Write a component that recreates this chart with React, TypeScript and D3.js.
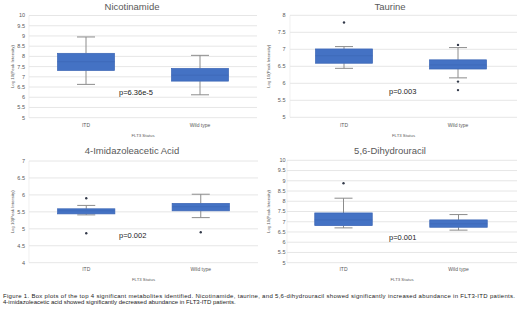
import React from "react";
import * as d3 from "d3";

const categories = ["ITD", "Wild type"];
const titles = ["Nicotinamide", "Taurine", "4-Imidazoleacetic Acid", "5,6-Dihydrouracil"];
const pLabels = ["p=6.36e-5", "p=0.003", "p=0.002", "p=0.001"];
const yDomains: [number, number][] = [[5, 10], [5, 8], [4, 7], [5, 10]];

// [min whisker, q1, median, q3, max whisker] per category
const nicotinamideStats = [[6.63, 7.31, 7.74, 8.15, 8.95], [6.12, 6.79, 7.08, 7.41, 8.05]];
const taurineStats = [[6.44, 6.59, 6.81, 7.01, 7.08], [6.16, 6.42, 6.54, 6.69, 7.05]];
const imidazoleStats = [[5.41, 5.44, 5.53, 5.59, 5.69], [5.33, 5.53, 5.65, 5.75, 6.02]];
const dihydrouracilStats = [[6.7, 6.81, 7.09, 7.43, 8.15], [6.59, 6.73, 6.9, 7.09, 7.35]];

const nicotinamideOutliers = [[], []];
const taurineOutliers = [[7.79], [7.13, 6.05, 5.8]];
const imidazoleOutliers = [[5.9, 4.87], [4.9]];
const dihydrouracilOutliers = [[8.88], []];

const allStats = [nicotinamideStats, taurineStats, imidazoleStats, dihydrouracilStats];
const allOutliers = [nicotinamideOutliers, taurineOutliers, imidazoleOutliers, dihydrouracilOutliers];

const captionLines = [
  "Figure 1. Box plots of the top 4 significant metabolites identified. Nicotinamide, taurine, and 5,6-dihydrouracil showed significantly increased abundance in FLT3-ITD patients.",
  "4-imidazoleacetic acid showed significantly decreased abundance in FLT3-ITD patients.",
];

// layout
const layouts = [
  { bx: [29, 257], gx: [29, 257], yr: [117.7, 15.5], tickX: 25, titleX: 132, titleY: 10, axX: 12, pX: 119, pY: 95, catY: 127, flY: 137 },
  { bx: [287, 515], gx: [290, 517], yr: [117.3, 15.3], tickX: 285.5, titleX: 390, titleY: 10, axX: 268, pX: 389, pY: 94, catY: 127, flY: 137 },
  { bx: [29, 258], gx: [29, 258], yr: [262.7, 161], tickX: 25, titleX: 132, titleY: 154, axX: 12, pX: 119, pY: 237.5, catY: 271, flY: 281 },
  { bx: [286, 516], gx: [287, 517], yr: [262.7, 160.3], tickX: 285.5, titleX: 390, titleY: 154, axX: 268, pX: 389, pY: 239.5, catY: 271, flY: 281 },
];

const font = "'Liberation Sans', Arial, sans-serif";
const grey = "#595959";

function Panel({ i }: { i: number }) {
  const L = layouts[i];
  const y = d3.scaleLinear().domain(yDomains[i]).range(L.yr as [number, number]);
  const x = d3.scaleBand().domain(categories).range(L.bx as [number, number]);
  const ticks = d3.range(yDomains[i][0], yDomains[i][1] + 0.001, 0.5);
  const bw = x.bandwidth() * 0.5;
  const capW = 18;
  const midY = (L.yr[0] + L.yr[1]) / 2;
  return (
    <g>
      {ticks.map((t) => (
        <g key={t}>
          <line x1={L.gx[0]} x2={L.gx[1]} y1={y(t)} y2={y(t)} stroke="#e0e0e0" strokeWidth={0.8} />
          <text x={L.tickX} y={y(t)} dy="0.35em" textAnchor="end" fontSize={5.5} fill={grey} fontFamily={font}>
            {d3.format("~g")(t)}
          </text>
        </g>
      ))}
      <line x1={L.gx[0]} x2={L.gx[0]} y1={L.yr[0]} y2={L.yr[1]} stroke="#e6e6e6" strokeWidth={0.6} />
      <text x={L.titleX} y={L.titleY} textAnchor="middle" fontSize={9.5} fill={grey} fontFamily={font}>
        {titles[i]}
      </text>
      <text
        transform={`translate(${L.axX},${midY}) rotate(-90)`}
        textAnchor="middle"
        dy="0.35em"
        fontSize={4.3}
        fill={grey}
        fontFamily={font}
      >
        Log 10(Peak Intensity)
      </text>
      {categories.map((c, k) => {
        const s = allStats[i][k];
        const cx = (x(c) as number) + x.bandwidth() / 2;
        return (
          <g key={c}>
            <line x1={cx} x2={cx} y1={y(s[4])} y2={y(s[3])} stroke="#8c8c8c" strokeWidth={1} />
            <line x1={cx} x2={cx} y1={y(s[1])} y2={y(s[0])} stroke="#8c8c8c" strokeWidth={1} />
            <line x1={cx - capW / 2} x2={cx + capW / 2} y1={y(s[4])} y2={y(s[4])} stroke="#8c8c8c" strokeWidth={1} />
            <line x1={cx - capW / 2} x2={cx + capW / 2} y1={y(s[0])} y2={y(s[0])} stroke="#8c8c8c" strokeWidth={1} />
            <rect x={cx - bw / 2} y={y(s[3])} width={bw} height={y(s[1]) - y(s[3])} fill="#4472C4" stroke="#3a64b4" strokeWidth={0.7} />
            <line x1={cx - bw / 2} x2={cx + bw / 2} y1={y(s[2])} y2={y(s[2])} stroke="#3d68b8" strokeWidth={0.8} />
            {allOutliers[i][k].map((o, j) => (
              <circle key={j} cx={cx} cy={y(o)} r={1.2} fill="#333a4a" />
            ))}
            <text x={cx} y={L.catY} textAnchor="middle" fontSize={5} fill={grey} fontFamily={font}>
              {c}
            </text>
          </g>
        );
      })}
      <text x={(L.gx[0] + L.gx[1]) / 2} y={L.flY} textAnchor="middle" fontSize={4.3} fill={grey} fontFamily={font}>
        FLT3 Status
      </text>
      <text x={L.pX} y={L.pY} fontSize={7.5} fill="#222" fontFamily={font}>
        {pLabels[i]}
      </text>
    </g>
  );
}

export default function App() {
  return (
    <svg width={520} height={311} style={{ position: "absolute", left: 0, top: 0, background: "#fff" }}>
      <rect width={520} height={311} fill="#fff" />
      {[0, 1, 2, 3].map((i) => (
        <Panel key={i} i={i} />
      ))}
      {captionLines.map((l, k) => (
        <text key={k} x={3} y={297.5 + k * 6.8} fontSize={6} fill="#222" fontFamily={font} textLength={k === 0 ? 512 : undefined}>
          {l}
        </text>
      ))}
    </svg>
  );
}
